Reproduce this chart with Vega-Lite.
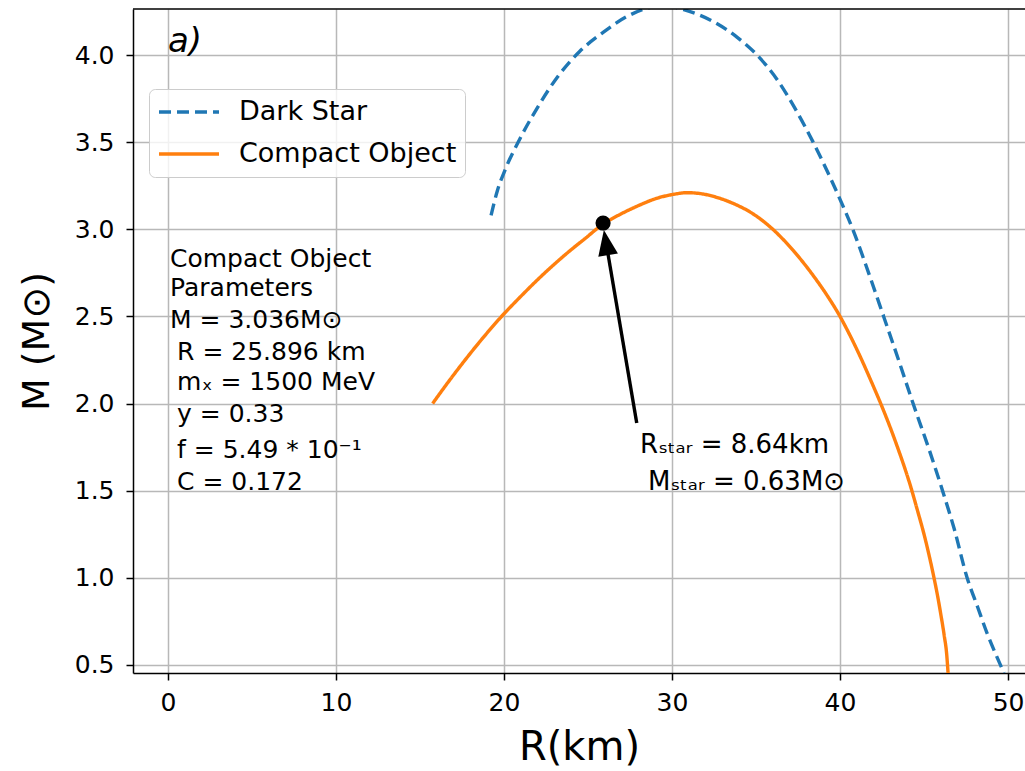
{
  "$schema": "https://vega.github.io/schema/vega-lite/v6.json",
  "autosize": "none",
  "width": 892,
  "height": 664,
  "padding": {"left": 133, "top": 9, "right": 0, "bottom": 98},
  "background": "white",
  "config": {
    "font": "DejaVu Sans",
    "view": {"stroke": null},
    "axis": {
      "domainColor": "black", "domainWidth": 1.5,
      "tickColor": "black", "tickWidth": 1.5, "tickSize": 7,
      "gridColor": "#b8b8b8", "gridWidth": 1.5,
      "labelColor": "black", "labelFont": "DejaVu Sans", "labelFontSize": 25,
      "titleColor": "black", "titleFont": "DejaVu Sans", "titleFontWeight": "normal"
    },
    "legend": {
      "orient": "none", "legendX": 16, "legendY": 80, "title": null,
      "symbolType": "stroke", "symbolSize": 3600, "symbolStrokeWidth": 3.4,
      "clipHeight": 30,
      "labelFontSize": 27, "labelColor": "black", "labelOffset": 18, "labelLimit": 500,
      "fillColor": "rgba(255,255,255,0.8)", "strokeColor": "#cccccc", "cornerRadius": 6,
      "padding": 8, "rowPadding": 12
    }
  },
  "datasets": {
    "curves": [
      {"R": 19.23, "M": 3.08, "series": "Dark Star"},
      {"R": 19.6, "M": 3.22, "series": "Dark Star"},
      {"R": 20.06, "M": 3.34, "series": "Dark Star"},
      {"R": 20.95, "M": 3.52, "series": "Dark Star"},
      {"R": 22.0, "M": 3.70, "series": "Dark Star"},
      {"R": 23.15, "M": 3.87, "series": "Dark Star"},
      {"R": 24.5, "M": 4.02, "series": "Dark Star"},
      {"R": 25.9, "M": 4.13, "series": "Dark Star"},
      {"R": 27.3, "M": 4.22, "series": "Dark Star"},
      {"R": 28.4, "M": 4.265, "series": "Dark Star"},
      {"R": 29.5, "M": 4.285, "series": "Dark Star"},
      {"R": 30.7, "M": 4.26, "series": "Dark Star"},
      {"R": 32.3, "M": 4.20, "series": "Dark Star"},
      {"R": 33.9, "M": 4.10, "series": "Dark Star"},
      {"R": 35.06, "M": 4.0, "series": "Dark Star"},
      {"R": 36.25, "M": 3.86, "series": "Dark Star"},
      {"R": 37.4, "M": 3.68, "series": "Dark Star"},
      {"R": 38.4, "M": 3.50, "series": "Dark Star"},
      {"R": 39.4, "M": 3.30, "series": "Dark Star"},
      {"R": 40.1, "M": 3.15, "series": "Dark Star"},
      {"R": 40.8, "M": 2.99, "series": "Dark Star"},
      {"R": 41.7, "M": 2.75, "series": "Dark Star"},
      {"R": 42.56, "M": 2.51, "series": "Dark Star"},
      {"R": 43.45, "M": 2.26, "series": "Dark Star"},
      {"R": 44.35, "M": 2.0, "series": "Dark Star"},
      {"R": 45.36, "M": 1.72, "series": "Dark Star"},
      {"R": 46.2, "M": 1.47, "series": "Dark Star"},
      {"R": 46.8, "M": 1.28, "series": "Dark Star"},
      {"R": 47.55, "M": 1.005, "series": "Dark Star"},
      {"R": 48.2, "M": 0.83, "series": "Dark Star"},
      {"R": 48.75, "M": 0.683, "series": "Dark Star"},
      {"R": 49.3, "M": 0.555, "series": "Dark Star"},
      {"R": 49.76, "M": 0.454, "series": "Dark Star"},
      {"R": 15.75, "M": 2.00, "series": "Compact Object"},
      {"R": 16.5, "M": 2.10, "series": "Compact Object"},
      {"R": 17.4, "M": 2.215, "series": "Compact Object"},
      {"R": 18.6, "M": 2.36, "series": "Compact Object"},
      {"R": 19.76, "M": 2.49, "series": "Compact Object"},
      {"R": 21.0, "M": 2.615, "series": "Compact Object"},
      {"R": 22.1, "M": 2.72, "series": "Compact Object"},
      {"R": 23.0, "M": 2.80, "series": "Compact Object"},
      {"R": 23.9, "M": 2.875, "series": "Compact Object"},
      {"R": 24.8, "M": 2.945, "series": "Compact Object"},
      {"R": 25.9, "M": 3.03, "series": "Compact Object"},
      {"R": 26.9, "M": 3.085, "series": "Compact Object"},
      {"R": 28.1, "M": 3.14, "series": "Compact Object"},
      {"R": 29.0, "M": 3.175, "series": "Compact Object"},
      {"R": 30.06, "M": 3.20, "series": "Compact Object"},
      {"R": 30.9, "M": 3.21, "series": "Compact Object"},
      {"R": 31.67, "M": 3.205, "series": "Compact Object"},
      {"R": 32.6, "M": 3.185, "series": "Compact Object"},
      {"R": 33.6, "M": 3.15, "series": "Compact Object"},
      {"R": 34.8, "M": 3.09, "series": "Compact Object"},
      {"R": 36.0, "M": 3.0, "series": "Compact Object"},
      {"R": 37.2, "M": 2.88, "series": "Compact Object"},
      {"R": 38.4, "M": 2.735, "series": "Compact Object"},
      {"R": 39.2, "M": 2.625, "series": "Compact Object"},
      {"R": 40.0, "M": 2.50, "series": "Compact Object"},
      {"R": 40.6, "M": 2.39, "series": "Compact Object"},
      {"R": 41.2, "M": 2.27, "series": "Compact Object"},
      {"R": 41.8, "M": 2.14, "series": "Compact Object"},
      {"R": 42.4, "M": 2.005, "series": "Compact Object"},
      {"R": 43.0, "M": 1.86, "series": "Compact Object"},
      {"R": 43.4, "M": 1.755, "series": "Compact Object"},
      {"R": 43.8, "M": 1.645, "series": "Compact Object"},
      {"R": 44.2, "M": 1.525, "series": "Compact Object"},
      {"R": 44.6, "M": 1.39, "series": "Compact Object"},
      {"R": 45.0, "M": 1.25, "series": "Compact Object"},
      {"R": 45.3, "M": 1.13, "series": "Compact Object"},
      {"R": 45.55, "M": 1.02, "series": "Compact Object"},
      {"R": 45.8, "M": 0.90, "series": "Compact Object"},
      {"R": 46.0, "M": 0.79, "series": "Compact Object"},
      {"R": 46.2, "M": 0.67, "series": "Compact Object"},
      {"R": 46.35, "M": 0.56, "series": "Compact Object"},
      {"R": 46.43, "M": 0.454, "series": "Compact Object"}
    ],
    "params": [
      {"R": 0.12, "M": 2.830, "text": "Compact Object"},
      {"R": 0.12, "M": 2.663, "text": "Parameters"},
      {"R": 0.12, "M": 2.480, "text": "M = 3.036M⊙"},
      {"R": 0.54, "M": 2.296, "text": "R = 25.896 km"},
      {"R": 0.54, "M": 2.124, "text": "mₓ = 1500 MeV"},
      {"R": 0.54, "M": 1.940, "text": "y = 0.33"},
      {"R": 0.54, "M": 1.734, "text": "f = 5.49 * 10⁻¹"},
      {"R": 0.54, "M": 1.550, "text": "C = 0.172"}
    ],
    "star": [
      {"R": 28.1, "M": 1.762, "text": "Rₛₜₐᵣ = 8.64km"},
      {"R": 28.57, "M": 1.55, "text": "Mₛₜₐᵣ = 0.63M⊙"}
    ]
  },
  "layer": [
    {
      "data": {"name": "curves"},
      "mark": {"type": "line", "strokeWidth": 3.4, "clip": true, "interpolate": "monotone"},
      "encoding": {
        "x": {"field": "R", "type": "quantitative",
              "scale": {"domain": [-2.083, 51.01], "nice": false, "zero": false},
              "axis": {"values": [0, 10, 20, 30, 40, 50], "format": "d", "title": "R(km)", "titleFontSize": 40, "titlePadding": 12, "labelPadding": 10}},
        "y": {"field": "M", "type": "quantitative",
              "scale": {"domain": [0.454, 4.264], "nice": false, "zero": false},
              "axis": {"values": [0.5, 1.0, 1.5, 2.0, 2.5, 3.0, 3.5, 4.0], "format": ".1f", "title": "M (M⊙)", "titleFontSize": 38, "titlePadding": 18, "labelPadding": 12}},
        "color": {"field": "series", "type": "nominal",
                  "scale": {"domain": ["Dark Star", "Compact Object"], "range": ["#1f77b4", "#ff7f0e"]}},
        "strokeDash": {"field": "series", "type": "nominal",
                       "scale": {"domain": ["Dark Star", "Compact Object"], "range": [[12, 6], [1, 0]]}}
      }
    },
    {
      "data": {"values": [{"R": 27.9, "M": 1.889, "R2": 26.19, "M2": 2.858}]},
      "mark": {"type": "rule", "color": "black", "strokeWidth": 3.4},
      "encoding": {
        "x": {"field": "R", "type": "quantitative"},
        "y": {"field": "M", "type": "quantitative"},
        "x2": {"field": "R2"},
        "y2": {"field": "M2"}
      }
    },
    {
      "data": {"values": [{"R": 26.07, "M": 2.924}]},
      "mark": {"type": "point", "filled": true, "color": "black", "opacity": 1, "shape": "M0,-1L0.78,1L-0.78,1Z", "size": 650, "angle": -9.6},
      "encoding": {
        "x": {"field": "R", "type": "quantitative"},
        "y": {"field": "M", "type": "quantitative"}
      }
    },
    {
      "data": {"values": [{"R": 25.896, "M": 3.036}]},
      "mark": {"type": "circle", "color": "black", "opacity": 1, "size": 230},
      "encoding": {
        "x": {"field": "R", "type": "quantitative"},
        "y": {"field": "M", "type": "quantitative"}
      }
    },
    {
      "data": {"name": "params"},
      "mark": {"type": "text", "align": "left", "baseline": "middle", "fontSize": 25, "color": "black"},
      "encoding": {
        "x": {"field": "R", "type": "quantitative"},
        "y": {"field": "M", "type": "quantitative"},
        "text": {"field": "text"}
      }
    },
    {
      "data": {"name": "star"},
      "mark": {"type": "text", "align": "left", "baseline": "middle", "fontSize": 26, "color": "black"},
      "encoding": {
        "x": {"field": "R", "type": "quantitative"},
        "y": {"field": "M", "type": "quantitative"},
        "text": {"field": "text"}
      }
    },
    {
      "data": {"values": [{"R": 0.0, "M": 4.075, "text": "a)"}]},
      "mark": {"type": "text", "align": "left", "baseline": "middle", "fontSize": 34, "fontStyle": "italic", "color": "black"},
      "encoding": {
        "x": {"field": "R", "type": "quantitative"},
        "y": {"field": "M", "type": "quantitative"},
        "text": {"field": "text"}
      }
    },
    {
      "data": {"values": [{"top": 4.264}]},
      "mark": {"type": "rule", "color": "black", "strokeWidth": 1.5},
      "encoding": {"y": {"field": "top", "type": "quantitative"}}
    }
  ]
}
